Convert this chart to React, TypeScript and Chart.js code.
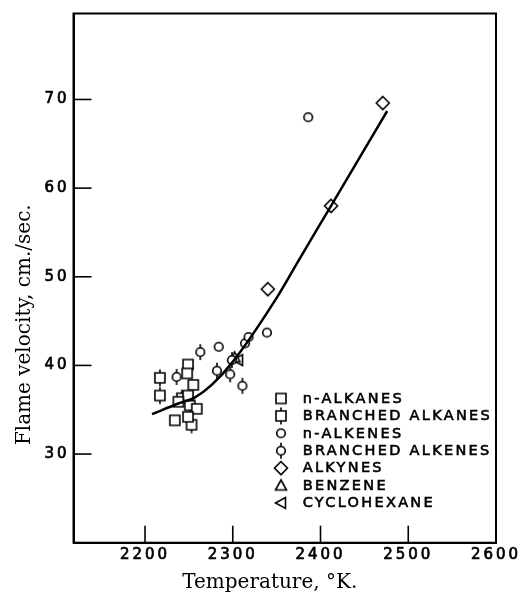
import React, { useEffect, useRef } from 'react';
import { Chart, registerables } from 'chart.js';

Chart.register(...registerables);

// ---------------- data ----------------
const seriesNames = [
  'n-ALKANES',
  'BRANCHED ALKANES',
  'n-ALKENES',
  'BRANCHED ALKENES',
  'ALKYNES',
  'BENZENE',
  'CYCLOHEXANE',
];

const nAlkanesT = [2249, 2248, 2255, 2249, 2238, 2259, 2249, 2234];
const nAlkanesV = [40.1, 39.1, 37.8, 36.6, 35.9, 35.1, 34.2, 33.8];

const brAlkanesT = [2217, 2217, 2242, 2251, 2253];
const brAlkanesV = [38.6, 36.6, 36.3, 35.5, 33.3];

const nAlkenesT = [2284, 2314, 2318, 2339, 2386];
const nAlkenesV = [42.1, 42.5, 43.2, 43.7, 68.0];

const brAlkenesT = [2236, 2263, 2282, 2297, 2299, 2311];
const brAlkenesV = [38.7, 41.5, 39.4, 39.0, 40.6, 37.7];

const alkynesT = [2340, 2412, 2471];
const alkynesV = [48.6, 58.0, 69.6];

const benzeneT = [2302];
const benzeneV = [40.9];

const cyclohexaneT = [2306];
const cyclohexaneV = [40.6];

// fitted curve
const curveT = [2208, 2238, 2257, 2276, 2300, 2348, 2376, 2412, 2476];
const curveV = [34.5, 35.7, 36.4, 37.8, 40.4, 47.3, 52.0, 58.0, 68.7];

const xTickValues = [2200, 2300, 2400, 2500, 2600];
const yTickValues = [30, 40, 50, 60, 70];
const xMin = 2118.5;
const xMax = 2600;
const yMin = 20;
const yMax = 79.7;

const xTitle = 'Temperature, °K.';
const yTitle = 'Flame velocity, cm./sec.';

// ---------------- markers ----------------
type Kind = 'square' | 'squareStem' | 'circle' | 'circleStem' | 'diamond' | 'triUp' | 'triLeft';
const markerKinds: Kind[] = ['square', 'squareStem', 'circle', 'circleStem', 'diamond', 'triUp', 'triLeft'];

function makeMarker(kind: Kind): HTMLCanvasElement {
  const size = 24;
  const c = document.createElement('canvas');
  c.width = size;
  c.height = size;
  const g = c.getContext('2d')!;
  const m = size / 2;
  g.strokeStyle = '#000';
  g.fillStyle = '#fff';
  g.lineWidth = 1.6;
  g.lineJoin = 'miter';
  g.beginPath();
  if (kind === 'square' || kind === 'squareStem') {
    g.rect(m - 5, m - 5, 10, 10);
    g.fill();
    g.stroke();
    if (kind === 'squareStem') {
      g.beginPath();
      g.moveTo(m, m - 5);
      g.lineTo(m, m - 8.5);
      g.moveTo(m, m + 5);
      g.lineTo(m, m + 8.5);
      g.stroke();
    }
  } else if (kind === 'circle' || kind === 'circleStem') {
    g.arc(m, m, 4.3, 0, Math.PI * 2);
    g.fill();
    g.stroke();
    if (kind === 'circleStem') {
      g.beginPath();
      g.moveTo(m, m - 4.3);
      g.lineTo(m, m - 8);
      g.moveTo(m, m + 4.3);
      g.lineTo(m, m + 8);
      g.stroke();
    }
  } else if (kind === 'diamond') {
    g.moveTo(m, m - 6.5);
    g.lineTo(m + 6.5, m);
    g.lineTo(m, m + 6.5);
    g.lineTo(m - 6.5, m);
    g.closePath();
    g.fill();
    g.stroke();
  } else if (kind === 'triUp') {
    g.moveTo(m, m - 5.5);
    g.lineTo(m + 5.5, m + 4.5);
    g.lineTo(m - 5.5, m + 4.5);
    g.closePath();
    g.fill();
    g.stroke();
  } else if (kind === 'triLeft') {
    g.moveTo(m - 5.5, m);
    g.lineTo(m + 4.5, m - 5.5);
    g.lineTo(m + 4.5, m + 5.5);
    g.closePath();
    g.fill();
    g.stroke();
  }
  return c;
}

function pts(xs: number[], ys: number[]) {
  return xs.map((x, i) => ({ x, y: ys[i] }));
}

export default function App() {
  const ref = useRef<HTMLCanvasElement>(null);

  useEffect(() => {
    const canvas = ref.current;
    if (!canvas) return;
    const markers = markerKinds.map(makeMarker);

    const seriesData = [
      pts(nAlkanesT, nAlkanesV),
      pts(brAlkanesT, brAlkanesV),
      pts(nAlkenesT, nAlkenesV),
      pts(brAlkenesT, brAlkenesV),
      pts(alkynesT, alkynesV),
      pts(benzeneT, benzeneV),
      pts(cyclohexaneT, cyclohexaneV),
    ];

    const decor = {
      id: 'decor',
      beforeDraw(chart: any) {
        chart.ctx.letterSpacing = '3px';
      },
      afterDraw(chart: any) {
        const ctx = chart.ctx;
        const a = chart.chartArea;
        ctx.save();
        ctx.strokeStyle = '#000';
        ctx.lineWidth = 2;
        ctx.strokeRect(a.left, a.top, a.right - a.left, a.bottom - a.top);

        // inward tick marks
        ctx.lineWidth = 1.6;
        const xs = chart.scales.x;
        xs.ticks.forEach((t: any) => {
          const px = xs.getPixelForValue(t.value);
          if (px > a.left + 2 && px < a.right - 2) {
            ctx.beginPath();
            ctx.moveTo(px, a.bottom);
            ctx.lineTo(px, a.bottom - 17);
            ctx.stroke();
          }
        });
        const ys = chart.scales.y;
        ys.ticks.forEach((t: any) => {
          const py = ys.getPixelForValue(t.value);
          if (py > a.top + 2 && py < a.bottom - 2) {
            ctx.beginPath();
            ctx.moveTo(a.left, py);
            ctx.lineTo(a.left + 18, py);
            ctx.stroke();
          }
        });

        // axis titles
        ctx.letterSpacing = '0px';
        ctx.fillStyle = '#000';
        ctx.font = '20px "DejaVu Serif"';
        ctx.textAlign = 'center';
        ctx.textBaseline = 'alphabetic';
        ctx.fillText(xTitle, (a.left + a.right) / 2 - 15, a.bottom + 45);
        ctx.save();
        ctx.translate(25, a.bottom - 218);
        ctx.rotate(-Math.PI / 2);
        ctx.textBaseline = 'middle';
        ctx.fillText(yTitle, 0, 0);
        ctx.restore();

        // legend
        ctx.font = '14.5px "DejaVu Sans"';
        ctx.letterSpacing = '2.3px';
        ctx.textAlign = 'left';
        ctx.textBaseline = 'middle';
        ctx.lineWidth = 0.6;
        ctx.strokeStyle = '#000';
        seriesNames.forEach((name, i) => {
          const y = a.top + 385 + i * 17.4;
          const mk = markers[i];
          ctx.drawImage(mk, 281 - mk.width / 2, y - mk.height / 2);
          ctx.strokeText(name, 302.7, y + 0.5);
          ctx.fillText(name, 302.7, y + 0.5);
        });
        ctx.restore();
      },
    };

    const chart = new Chart(canvas, {
      type: 'scatter',
      data: {
        datasets: [
          {
            label: 'curve',
            data: pts(curveT, curveV),
            showLine: true,
            borderColor: '#000',
            borderWidth: 2.5,
            pointRadius: 0,
            cubicInterpolationMode: 'monotone',
            order: 0,
          } as any,
          ...seriesData.map((d, i) => ({
            label: seriesNames[i],
            data: d,
            pointStyle: markers[i],
            pointRadius: 5,
            showLine: false,
            order: 1,
          })),
        ],
      },
      options: {
        animation: false,
        responsive: false,
        devicePixelRatio: 1,
        events: [],
        layout: { padding: { top: 13.5, right: 30, left: 0, bottom: 0 } },
        plugins: {
          legend: { display: false },
          tooltip: { enabled: false },
          title: { display: false },
        },
        scales: {
          x: {
            type: 'linear',
            min: xMin,
            max: xMax,
            afterBuildTicks: (scale: any) => {
              scale.ticks = xTickValues.map((v) => ({ value: v }));
            },
            afterFit: (scale: any) => {
              scale.height = 51.3;
            },
            grid: { display: false, drawTicks: false },
            border: { display: true, color: '#000', width: 2 },
            ticks: {
              color: '#000',
              padding: 3,
              maxRotation: 0,
              textStrokeColor: '#000',
              textStrokeWidth: 0.7,
              font: { family: 'DejaVu Sans', size: 15 },
              callback: (v: any) => String(v),
            },
          },
          y: {
            type: 'linear',
            min: yMin,
            max: yMax,
            afterBuildTicks: (scale: any) => {
              scale.ticks = yTickValues.map((v) => ({ value: v }));
            },
            afterFit: (scale: any) => {
              scale.width = 73.5;
            },
            grid: { display: false, drawTicks: false },
            border: { display: true, color: '#000', width: 2 },
            ticks: {
              color: '#000',
              padding: 4,
              textStrokeColor: '#000',
              textStrokeWidth: 0.7,
              font: { family: 'DejaVu Sans', size: 15 },
              callback: (v: any) => String(v),
            },
          },
        },
      },
      plugins: [decor],
    });

    return () => chart.destroy();
  }, []);

  return (
    <div style={{ position: 'absolute', left: 0, top: 0, width: 526, height: 594, background: '#fff' }}>
      <canvas ref={ref} width={526} height={594} style={{ display: 'block', width: 526, height: 594 }} />
    </div>
  );
}
